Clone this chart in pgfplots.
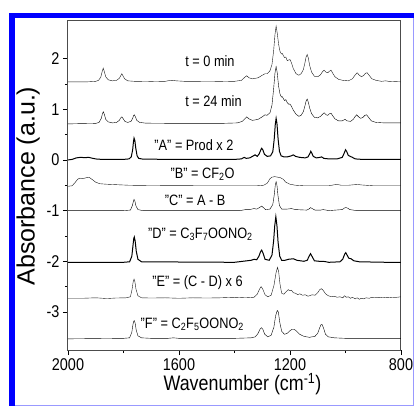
\documentclass[border=0pt]{standalone}
\usepackage{fontspec}
\setmainfont{Liberation Sans}[FakeStretch=0.85]
\newfontfamily\ylfont{Liberation Sans}
\usepackage{pgfplots}
\pgfplotsset{compat=1.18}

\begin{document}
\begin{tikzpicture}
\path[use as bounding box] (-68pt,-58pt) rectangle (347pt,350pt);
\begin{axis}[
  scale only axis, width=333pt, height=330pt,
  x dir=reverse, xmin=800, xmax=2000, ymin=-3.75, ymax=2.76,
  xtick={800,1200,1600,2000}, xticklabels={800,1200,1600,2000},
  ytick={-3,-2,-1,0,1,2}, yticklabels={-3,-2,-1,0,1,2},
  minor x tick num=1, minor y tick num=1,
  tick align=outside, xtick pos=left, ytick pos=left,
  major tick length=5pt, minor tick length=3pt,
  axis line style={black!70, line width=1pt},
  tick style={black, line width=0.7pt},
  tick label style={font=\fontsize{17}{17}\selectfont},
  xlabel={Wavenumber (cm\textsuperscript{-1})},
  ylabel={Absorbance (a.u.)},
  xlabel style={font=\fontsize{21}{21}\selectfont, at={(axis description cs:0.524,-0.124)}, anchor=base},
  ylabel style={font=\ylfont\fontsize{25}{25}\selectfont, at={(axis description cs:-0.12,0.497)}, anchor=center},
  cycle list={{black!90, solid, line width=1pt}},
  no markers,
]
% t = 0 min
\addplot coordinates {(2000,1.54) (1930,1.54) (1900,1.55) (1890,1.57) (1882,1.63) (1877,1.74) (1873,1.81) (1869,1.74) (1864,1.64) (1855,1.58) (1840,1.56) (1825,1.57) (1815,1.61) (1810,1.66) (1806,1.70) (1802,1.66) (1796,1.60) (1785,1.56) (1760,1.55) (1700,1.545) (1650,1.55) (1635,1.565) (1625,1.57) (1610,1.56) (1580,1.55) (1450,1.545) (1400,1.55) (1375,1.57) (1365,1.62) (1356,1.66) (1348,1.62) (1335,1.60) (1315,1.62) (1300,1.67) (1290,1.70) (1282,1.70) (1272,1.76) (1265,1.88) (1259,2.15) (1254,2.48) (1250,2.64) (1246,2.50) (1241,2.28) (1236,2.14) (1231,2.09) (1228,2.10) (1223,2.05) (1220,2.02) (1215,2.03) (1210,1.96) (1205,1.97) (1200,1.98) (1195,1.92) (1188,1.80) (1178,1.70) (1168,1.67) (1160,1.70) (1152,1.78) (1146,1.92) (1142,2.03) (1138,2.08) (1134,2.01) (1129,1.86) (1122,1.73) (1112,1.65) (1100,1.64) (1090,1.68) (1083,1.74) (1077,1.77) (1070,1.73) (1064,1.72) (1058,1.75) (1052,1.77) (1046,1.71) (1038,1.64) (1025,1.59) (1010,1.57) (990,1.56) (975,1.60) (966,1.67) (958,1.72) (950,1.67) (942,1.64) (934,1.67) (928,1.71) (922,1.72) (915,1.67) (905,1.60) (890,1.57) (870,1.55) (855,1.56) (845,1.55) (800,1.54)};
% t = 24 min
\addplot coordinates {(2000,0.71) (1960,0.715) (1900,0.72) (1888,0.74) (1880,0.82) (1876,0.91) (1873,0.95) (1869,0.90) (1864,0.80) (1855,0.75) (1840,0.73) (1825,0.74) (1815,0.78) (1810,0.83) (1806,0.85) (1802,0.82) (1795,0.76) (1785,0.74) (1773,0.76) (1767,0.82) (1764,0.87) (1761,0.89) (1757,0.85) (1752,0.78) (1742,0.74) (1720,0.725) (1600,0.72) (1450,0.72) (1390,0.73) (1372,0.76) (1363,0.81) (1356,0.85) (1348,0.81) (1335,0.78) (1315,0.80) (1300,0.85) (1290,0.89) (1283,0.88) (1272,0.93) (1265,1.08) (1259,1.40) (1254,1.72) (1250,1.84) (1246,1.72) (1241,1.45) (1236,1.30) (1231,1.24) (1228,1.25) (1223,1.20) (1219,1.17) (1215,1.19) (1210,1.13) (1205,1.10) (1200,1.10) (1195,1.06) (1188,0.98) (1178,0.90) (1168,0.86) (1160,0.88) (1152,0.95) (1146,1.07) (1142,1.16) (1138,1.20) (1134,1.14) (1129,1.02) (1122,0.91) (1112,0.84) (1100,0.83) (1090,0.86) (1083,0.90) (1077,0.93) (1070,0.89) (1064,0.88) (1058,0.91) (1052,0.92) (1046,0.87) (1038,0.81) (1025,0.77) (1012,0.77) (1002,0.80) (994,0.77) (982,0.76) (972,0.80) (966,0.85) (960,0.89) (953,0.85) (945,0.82) (937,0.84) (930,0.88) (924,0.89) (917,0.84) (907,0.77) (890,0.74) (860,0.73) (800,0.73)};
% A = Prod x 2
\addplot coordinates {(2000,0.0) (1985,0.01) (1970,0.04) (1955,0.05) (1940,0.045) (1925,0.05) (1910,0.03) (1895,0.015) (1870,0.01) (1800,0.01) (1780,0.02) (1772,0.06) (1767,0.20) (1764,0.36) (1762,0.43) (1759,0.38) (1756,0.24) (1751,0.08) (1745,0.03) (1730,0.015) (1600,0.01) (1400,0.01) (1375,0.02) (1365,0.05) (1358,0.03) (1345,0.04) (1335,0.07) (1326,0.10) (1318,0.07) (1311,0.12) (1305,0.20) (1302,0.23) (1298,0.20) (1292,0.11) (1282,0.07) (1270,0.08) (1262,0.16) (1257,0.40) (1253,0.70) (1250,0.82) (1247,0.72) (1243,0.42) (1238,0.17) (1232,0.08) (1222,0.06) (1210,0.06) (1195,0.08) (1188,0.10) (1180,0.07) (1165,0.05) (1145,0.04) (1135,0.06) (1128,0.13) (1125,0.17) (1122,0.14) (1116,0.07) (1105,0.04) (1092,0.05) (1086,0.06) (1078,0.03) (1060,0.02) (1030,0.02) (1012,0.05) (1004,0.14) (1000,0.20) (996,0.17) (990,0.09) (983,0.07) (975,0.05) (965,0.02) (940,0.01) (800,0.01)};
% B = CF2O
\addplot coordinates {(2000,-0.52) (1985,-0.51) (1975,-0.45) (1965,-0.38) (1957,-0.36) (1948,-0.37) (1940,-0.36) (1930,-0.345) (1922,-0.35) (1912,-0.39) (1900,-0.44) (1885,-0.47) (1860,-0.48) (1820,-0.49) (1780,-0.50) (1700,-0.505) (1500,-0.51) (1320,-0.51) (1295,-0.50) (1282,-0.46) (1272,-0.37) (1265,-0.34) (1255,-0.33) (1245,-0.34) (1235,-0.35) (1225,-0.38) (1215,-0.44) (1200,-0.48) (1180,-0.50) (1150,-0.51) (1060,-0.51) (1040,-0.49) (1030,-0.485) (1015,-0.50) (990,-0.50) (970,-0.49) (955,-0.485) (940,-0.495) (900,-0.51) (800,-0.51)};
% C = A - B
\addplot coordinates {(2000,-1.0) (1800,-1.0) (1775,-0.99) (1768,-0.90) (1764,-0.81) (1762,-0.78) (1759,-0.81) (1755,-0.91) (1748,-0.98) (1730,-1.0) (1380,-1.0) (1360,-0.98) (1345,-0.98) (1330,-0.96) (1320,-0.97) (1310,-0.94) (1302,-0.91) (1296,-0.94) (1288,-0.98) (1272,-0.97) (1262,-0.88) (1257,-0.70) (1253,-0.50) (1250,-0.43) (1247,-0.50) (1243,-0.72) (1238,-0.90) (1230,-0.97) (1210,-0.97) (1195,-0.96) (1180,-0.98) (1140,-0.99) (1132,-0.97) (1126,-0.94) (1120,-0.96) (1110,-0.99) (1090,-0.99) (1080,-0.98) (1060,-1.0) (1012,-0.98) (1004,-0.95) (999,-0.94) (993,-0.95) (984,-0.98) (960,-1.0) (800,-1.0)};
% D = C3F7OONO2
\addplot coordinates {(2000,-2.02) (1800,-2.02) (1778,-2.01) (1770,-1.90) (1766,-1.70) (1763,-1.55) (1761,-1.52) (1758,-1.60) (1754,-1.80) (1748,-1.96) (1735,-2.01) (1400,-2.02) (1370,-2.00) (1355,-1.99) (1340,-1.98) (1329,-1.96) (1320,-1.97) (1312,-1.90) (1306,-1.81) (1302,-1.78) (1297,-1.84) (1290,-1.96) (1275,-1.98) (1265,-1.88) (1259,-1.60) (1255,-1.30) (1251,-1.12) (1247,-1.30) (1243,-1.62) (1237,-1.90) (1230,-1.98) (1218,-1.98) (1205,-1.96) (1188,-1.95) (1175,-1.98) (1150,-2.0) (1138,-1.98) (1131,-1.90) (1126,-1.85) (1121,-1.90) (1112,-1.99) (1095,-2.0) (1080,-2.00) (1060,-2.02) (1020,-2.01) (1010,-1.96) (1003,-1.86) (999,-1.83) (995,-1.87) (988,-1.94) (980,-1.95) (970,-1.99) (950,-2.01) (850,-2.02) (800,-2.02)};
% E = (C - D) x 6
\addplot coordinates {(2000,-2.73) (1950,-2.73) (1900,-2.72) (1860,-2.735) (1830,-2.725) (1790,-2.72) (1775,-2.70) (1769,-2.55) (1765,-2.40) (1762,-2.35) (1759,-2.40) (1755,-2.55) (1748,-2.68) (1735,-2.72) (1700,-2.725) (1650,-2.72) (1600,-2.73) (1550,-2.72) (1500,-2.725) (1450,-2.72) (1400,-2.71) (1360,-2.72) (1330,-2.71) (1318,-2.65) (1310,-2.55) (1304,-2.50) (1298,-2.55) (1290,-2.66) (1280,-2.70) (1268,-2.67) (1258,-2.48) (1250,-2.22) (1245,-2.12) (1241,-2.20) (1236,-2.45) (1230,-2.63) (1222,-2.65) (1214,-2.60) (1206,-2.56) (1200,-2.58) (1195,-2.57) (1188,-2.62) (1180,-2.63) (1172,-2.66) (1165,-2.64) (1155,-2.67) (1145,-2.66) (1135,-2.69) (1120,-2.66) (1110,-2.67) (1100,-2.62) (1093,-2.56) (1087,-2.54) (1081,-2.57) (1072,-2.64) (1062,-2.68) (1050,-2.70) (1040,-2.69) (1030,-2.71) (1020,-2.70) (1010,-2.72) (1003,-2.68) (997,-2.71) (990,-2.70) (982,-2.73) (975,-2.71) (965,-2.74) (958,-2.72) (950,-2.75) (943,-2.73) (935,-2.74) (925,-2.72) (915,-2.73) (905,-2.71) (895,-2.72) (880,-2.71) (865,-2.72) (850,-2.71) (830,-2.72) (815,-2.71) (800,-2.70)};
% F = C2F5OONO2
\addplot coordinates {(2000,-3.53) (1900,-3.525) (1800,-3.52) (1778,-3.51) (1770,-3.40) (1766,-3.25) (1763,-3.18) (1761,-3.17) (1758,-3.22) (1754,-3.36) (1748,-3.47) (1735,-3.51) (1700,-3.52) (1640,-3.52) (1620,-3.51) (1600,-3.52) (1400,-3.52) (1340,-3.51) (1325,-3.49) (1316,-3.43) (1308,-3.34) (1303,-3.31) (1298,-3.34) (1291,-3.44) (1280,-3.49) (1268,-3.46) (1258,-3.30) (1252,-3.08) (1246,-2.97) (1242,-3.00) (1237,-3.20) (1230,-3.38) (1220,-3.44) (1210,-3.42) (1200,-3.37) (1192,-3.34) (1186,-3.34) (1178,-3.37) (1165,-3.44) (1150,-3.48) (1130,-3.50) (1110,-3.48) (1100,-3.42) (1093,-3.31) (1088,-3.25) (1084,-3.25) (1079,-3.32) (1072,-3.44) (1062,-3.49) (1040,-3.51) (1000,-3.52) (950,-3.52) (900,-3.52) (800,-3.52)};

\begin{scope}[every node/.style={anchor=base, inner sep=0pt, font=\fontsize{15}{15}\selectfont}]
\node[anchor=base west] at (axis cs:1578,1.84) {t = 0 min};
\node[anchor=base west] at (axis cs:1578,1.05) {t = 24 min};
\node at (axis cs:1546,0.18) {"A" = Prod x 2};
\node at (axis cs:1515,-0.36) {"B" = CF\textsubscript{2}O};
\node at (axis cs:1542,-0.89) {"C" = A - B};
\node at (axis cs:1523,-1.55) {"D" = C\textsubscript{3}F\textsubscript{7}OONO\textsubscript{2}};
\node at (axis cs:1533,-2.50) {"E" = (C - D) x 6};
\node at (axis cs:1552,-3.32) {"F" = C\textsubscript{2}F\textsubscript{5}OONO\textsubscript{2}};
\end{scope}
\end{axis}
% frame round the figure
\fill[blue] (-58.7pt,337.3pt) rectangle (346pt,332pt);
\fill[blue] (-58.7pt,337.3pt) rectangle (-53pt,-56pt);
\draw[blue!40, line width=1.2pt] (345.3pt,332pt) -- (345.3pt,-55.6pt) -- (-53pt,-55.6pt);
\end{tikzpicture}
\end{document}
